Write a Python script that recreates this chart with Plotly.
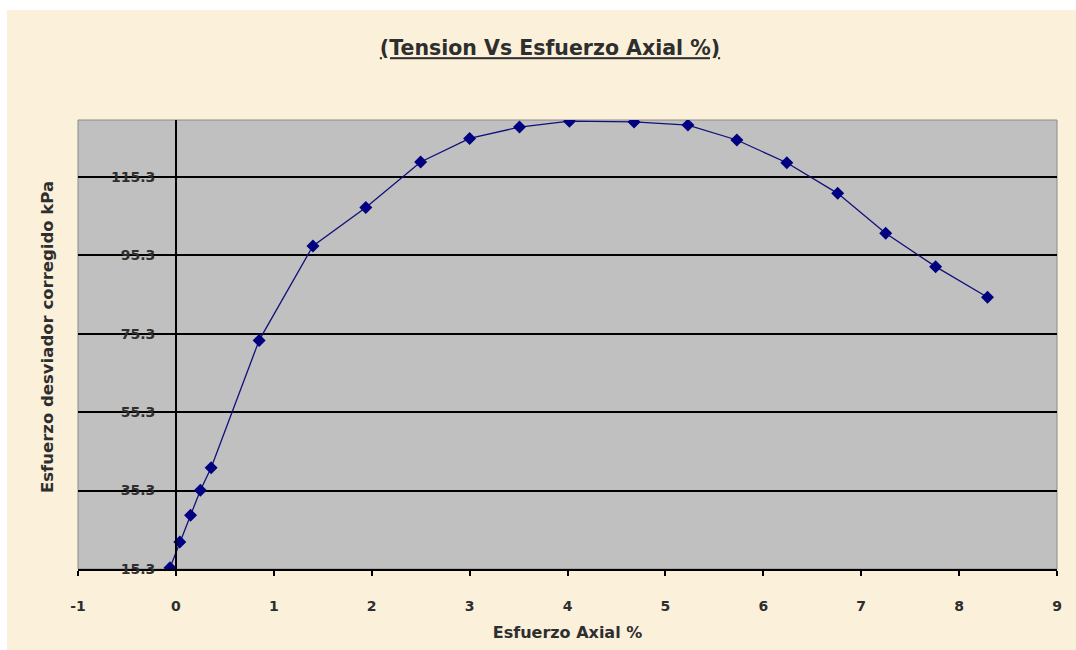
import plotly.graph_objects as go

# Axial strain (%) and corrected deviator stress (kPa)
esfuerzo_axial = [-0.06, 0.04, 0.15, 0.25, 0.36, 0.85, 1.40, 1.94, 2.50, 3.00,
                  3.51, 4.02, 4.68, 5.23, 5.73, 6.24, 6.76, 7.25, 7.76, 8.29]
esfuerzo_desviador = [15.6, 22.2, 29.0, 35.4, 41.1, 73.6, 97.7, 107.5, 119.1, 125.1,
                      128.0, 129.5, 129.3, 128.5, 124.7, 118.9, 111.1, 100.9, 92.4, 84.6]

y_ticks = [15.3, 35.3, 55.3, 75.3, 95.3, 115.3]
y_tick_labels = [f"{v:.1f}" for v in y_ticks]
x_ticks = [-1, 0, 1, 2, 3, 4, 5, 6, 7, 8, 9]
x_tick_labels = [str(v) for v in x_ticks]

W, H = 1076, 650
L, R, T, B = 78, 19, 120, 81
pw, ph = W - L - R, H - T - B

def px_x(p):
    return (p - L) / pw

def px_y(p):
    return (H - B - p) / ph

FONT = "DejaVu Sans, Verdana, sans-serif"
TXT = "#2e2e2e"
CREAM = "#FBF0DA"

fig = go.Figure()
fig.add_trace(go.Scatter(
    x=esfuerzo_axial, y=esfuerzo_desviador,
    mode="lines+markers",
    line=dict(color="#10107a", width=1.3),
    marker=dict(symbol="diamond", size=10, color="#000080"),
    showlegend=False,
))

shapes = [
    # white margin strips along the top and left of the sheet
    dict(type="rect", xref="paper", yref="paper", layer="below",
         x0=px_x(0), x1=px_x(W), y0=px_y(10), y1=px_y(0),
         fillcolor="white", line=dict(width=0)),
    dict(type="rect", xref="paper", yref="paper", layer="below",
         x0=px_x(0), x1=px_x(7), y0=px_y(H), y1=px_y(0),
         fillcolor="white", line=dict(width=0)),
    # plot area frame
    dict(type="rect", xref="paper", yref="paper", layer="between",
         x0=0, x1=1, y0=0, y1=1, fillcolor="rgba(0,0,0,0)",
         line=dict(color="#8a8a8a", width=1)),
]

fig.update_layout(
    width=W, height=H,
    margin=dict(l=L, r=R, t=T, b=B, pad=0),
    paper_bgcolor=CREAM,
    plot_bgcolor="#C0C0C0",
    font=dict(family=FONT, color=TXT, size=13),
    shapes=shapes,
    title=dict(
        text="<b><u>(Tension Vs Esfuerzo Axial %)</u></b>",
        x=550 / W, xanchor="center",
        y=1 - 48 / H, yanchor="middle",
        font=dict(size=20.5, family=FONT, color=TXT),
    ),
    xaxis=dict(
        range=[-1, 9], tickvals=x_ticks, ticktext=x_tick_labels,
        showgrid=False, zeroline=False,
        showline=True, linecolor="black", linewidth=1.5,
        ticks="outside", ticklen=5, tickwidth=1.5, tickcolor="black",
        ticklabelstandoff=18,
        tickfont=dict(size=14, family=FONT, color=TXT, weight="bold"),
        title=dict(text="<b>Esfuerzo Axial %</b>", standoff=14,
                   font=dict(size=16, family=FONT, color=TXT)),
        fixedrange=True,
    ),
    yaxis=dict(
        range=[15.3, 129.8], tickvals=y_ticks, ticktext=y_tick_labels,
        anchor="free", position=0.1,
        showgrid=True, gridcolor="black", gridwidth=1.5,
        zeroline=False,
        showline=True, linecolor="black", linewidth=1.5,
        ticks="", ticklabelstandoff=17,
        tickfont=dict(size=14, family=FONT, color=TXT, weight="bold"),
        fixedrange=True,
    ),
)

fig.add_annotation(
    text="<b>Esfuerzo desviador corregido kPa</b>",
    xref="paper", yref="paper", x=px_x(47), y=px_y(337),
    textangle=-90, showarrow=False, xanchor="center", yanchor="middle",
    font=dict(size=16.5, family=FONT, color=TXT),
)

fig.write_html("out.html")
